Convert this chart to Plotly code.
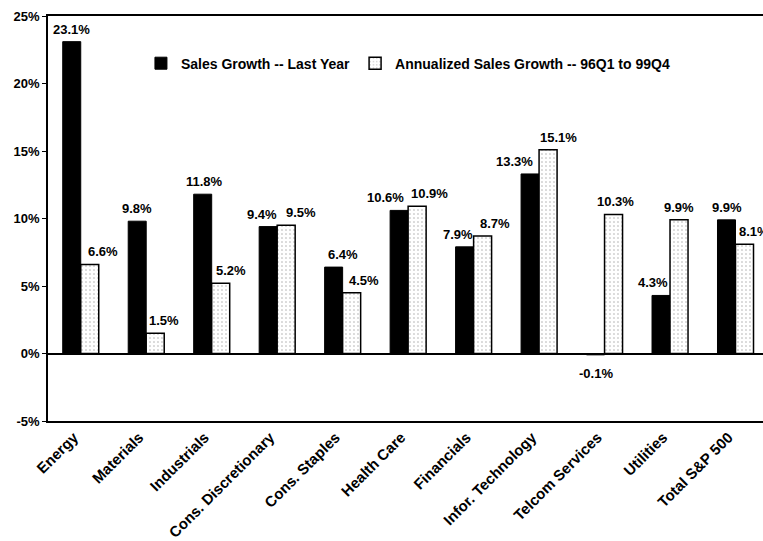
import plotly.graph_objects as go

sectors = ["Energy", "Materials", "Industrials", "Cons. Discretionary", "Cons. Staples",
           "Health Care", "Financials", "Infor. Technology", "Telcom Services",
           "Utilities", "Total S&P 500"]
growth_last_year = [23.1, 9.8, 11.8, 9.4, 6.4, 10.6, 7.9, 13.3, -0.1, 4.3, 9.9]
growth_annualized = [6.6, 1.5, 5.2, 9.5, 4.5, 10.9, 8.7, 15.1, 10.3, 9.9, 8.1]
y_ticks = [-5, 0, 5, 10, 15, 20, 25]
y_tick_labels = [f"{v}%" for v in y_ticks]

# horizontal nudges (px) that keep neighbouring value labels apart
nudge_last_year = [0, 0, 2, -6, 9, -14, -7, -16, 0, -8, 0]
nudge_annualized = [13, 9, 10, 15, 12, 12, 12, 10, 2, 0, 9]

FONT = "Liberation Sans, Arial, sans-serif"
label_font = dict(family=FONT, size=13, color="black", weight="bold")
BAR_HALF = 9  # half of one bar's width in px, to centre labels on each bar

fig = go.Figure()
fig.add_trace(go.Bar(
    x=sectors, y=growth_last_year, name="Sales Growth -- Last Year",
    marker=dict(color="black", line=dict(color="black", width=1)),
))
fig.add_trace(go.Bar(
    x=sectors, y=growth_annualized, name="Annualized Sales Growth -- 96Q1 to 99Q4",
    marker=dict(color="white", line=dict(color="black", width=1.5),
                pattern=dict(shape=".", fgcolor="#555555", bgcolor="white",
                             size=4, solidity=0.12)),
))

annotations = []
for values, side, nudges in ((growth_last_year, -1, nudge_last_year),
                             (growth_annualized, 1, nudge_annualized)):
    for sector, v, dx in zip(sectors, values, nudges):
        annotations.append(dict(
            x=sector, y=v, xref="x", yref="y", text=f"{v:.1f}%",
            showarrow=False, font=label_font,
            xshift=side * BAR_HALF + dx,
            yanchor="bottom" if v >= 0 else "top",
            yshift=3 if v >= 0 else -9,
        ))

x_range = [-0.5, 10.42]

fig.update_layout(
    width=763, height=541,
    margin=dict(l=48, r=0, t=16, b=118),
    paper_bgcolor="white", plot_bgcolor="white",
    barmode="group", bargap=0.45, bargroupgap=0,
    font=dict(family=FONT, size=12, color="black"),
    annotations=annotations,
    showlegend=True,
    legend=dict(orientation="h", x=0.13, y=0.922, xanchor="left", yanchor="top",
                font=dict(family=FONT, size=14, color="black", weight="bold"),
                bgcolor="rgba(0,0,0,0)", itemwidth=30, traceorder="normal"),
    xaxis=dict(range=x_range, showline=True, linecolor="black", linewidth=1.5,
               mirror=True, ticks="", tickangle=-45, showgrid=False,
               ticklabelshift=-7,
               tickfont=dict(family=FONT, size=15, color="black", weight="bold")),
    yaxis=dict(range=[-5, 25], tickvals=y_ticks, ticktext=y_tick_labels,
               showline=True, linecolor="black", linewidth=1.5,
               ticks="outside", ticklen=4, tickcolor="black",
               showgrid=False, zeroline=True, zerolinecolor="black",
               zerolinewidth=1.5, tickfont=label_font),
    xaxis2=dict(overlaying="x", anchor="free", position=5 / 30,
                range=x_range, tickvals=[i + 0.5 for i in range(len(sectors))],
                ticks="outside", ticklen=4, tickcolor="black",
                showticklabels=False, showgrid=False, showline=False,
                zeroline=False),
)

fig.write_html("out.html")
